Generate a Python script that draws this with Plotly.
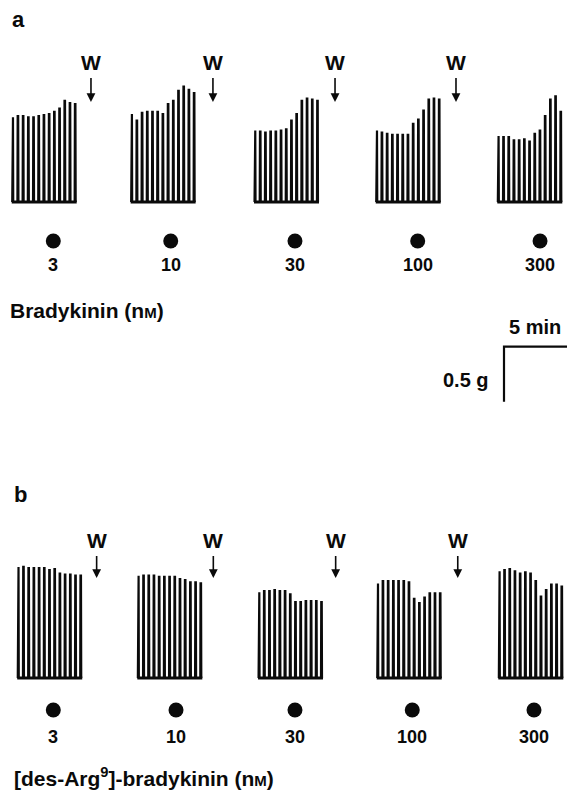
import plotly.graph_objects as go

# ---------------- data ----------------
doses = ["3", "10", "30", "100", "300"]          # nM
# peak tension of each contraction above baseline (g)
peaks_a = [
    [0.77, 0.78, 0.78, 0.77, 0.77, 0.78, 0.79, 0.80, 0.82, 0.85, 0.92, 0.90, 0.89],
    [0.80, 0.74, 0.81, 0.82, 0.82, 0.82, 0.80, 0.89, 0.92, 1.01, 1.05, 1.02, 0.99],
    [0.65, 0.64, 0.63, 0.64, 0.64, 0.65, 0.66, 0.74, 0.80, 0.92, 0.94, 0.93, 0.92],
    [0.65, 0.63, 0.62, 0.61, 0.61, 0.61, 0.61, 0.71, 0.75, 0.83, 0.93, 0.94, 0.93],
    [0.60, 0.59, 0.59, 0.56, 0.56, 0.57, 0.55, 0.62, 0.65, 0.78, 0.93, 0.96, 0.82],
]
peaks_b = [
    [1.01, 1.01, 1.00, 1.00, 1.00, 1.00, 0.98, 0.99, 0.95, 0.94, 0.94, 0.93, 0.93],
    [0.93, 0.93, 0.93, 0.93, 0.92, 0.92, 0.92, 0.92, 0.90, 0.89, 0.87, 0.87, 0.86],
    [0.78, 0.79, 0.79, 0.80, 0.79, 0.79, 0.76, 0.69, 0.69, 0.70, 0.70, 0.70, 0.69],
    [0.86, 0.88, 0.88, 0.88, 0.88, 0.88, 0.87, 0.72, 0.68, 0.73, 0.77, 0.77, 0.77],
    [0.97, 0.98, 0.99, 0.97, 0.95, 0.96, 0.95, 0.88, 0.74, 0.80, 0.85, 0.85, 0.83],
]
seg_start_a = [1.01, 10.45, 20.24, 29.90, 39.55]   # min, first contraction of each segment
seg_start_b = [1.45, 10.98, 20.56, 29.98, 39.63]
contraction_interval = 0.413                        # min
dose_time_a = [4.23, 13.55, 23.41, 33.15, 42.86]    # min
dose_time_b = [4.23, 13.97, 23.41, 32.72, 42.38]
wash_time_a = [7.22, 16.90, 26.59, 36.19]           # min
wash_time_b = [7.67, 16.93, 26.64, 36.33]
scale_time = 5.0    # min
scale_force = 0.5   # g

# ---------------- layout constants ----------------
W, H = 567, 791
PX_PER_MIN = 12.6
PX_PER_G = 110.0
BASE_A = 202.0   # pixel row of panel-a baseline
BASE_B = 678.0   # pixel row of panel-b baseline
FONT = "Liberation Sans"
INK = "#0a0a0a"


def ya(py):
    return (BASE_A - py) / PX_PER_G


def yb(py):
    return (BASE_B - py) / PX_PER_G


def ppx(px):
    return px / W


def ppy(py):
    return 1 - py / H


fig = go.Figure()


def add_panel(peaks, starts, yaxis):
    half = 0.5 / PX_PER_MIN
    for seg, t0 in zip(peaks, starts):
        xs, ys = [], []
        for i, h in enumerate(seg):
            t = t0 + i * contraction_interval
            xs += [t - half, t - half * 0.5, t + half * 0.5, t + half]
            ys += [0, h, h, 0]
        fig.add_trace(go.Scatter(x=xs, y=ys, mode="lines", yaxis=yaxis,
                                 line=dict(color=INK, width=2.2),
                                 hoverinfo="skip", showlegend=False))
        t_end = t0 + (len(seg) - 1) * contraction_interval
        fig.add_trace(go.Scatter(x=[t0 - 0.08, t_end + 0.12], y=[0, 0], mode="lines",
                                 yaxis=yaxis, line=dict(color=INK, width=3.2),
                                 hoverinfo="skip", showlegend=False))


add_panel(peaks_a, seg_start_a, "y")
add_panel(peaks_b, seg_start_b, "y2")

# dose markers
fig.add_trace(go.Scatter(x=dose_time_a, y=[ya(241)] * len(dose_time_a), mode="markers",
                         marker=dict(color=INK, size=15), yaxis="y",
                         hoverinfo="skip", showlegend=False))
fig.add_trace(go.Scatter(x=dose_time_b, y=[yb(710)] * len(dose_time_b), mode="markers",
                         marker=dict(color=INK, size=15), yaxis="y2",
                         hoverinfo="skip", showlegend=False))

# scale bar
x_end = W / PX_PER_MIN
sb_top = ya(346.7)
fig.add_trace(go.Scatter(x=[x_end, x_end - scale_time, x_end - scale_time],
                         y=[sb_top, sb_top, sb_top - scale_force],
                         mode="lines", line=dict(color=INK, width=2.2), yaxis="y",
                         hoverinfo="skip", showlegend=False))

annotations = []


def txt(x, y, s, size, xanchor="center", xref="paper"):
    annotations.append(dict(x=x, y=y, xref=xref, yref="paper", text=s, showarrow=False,
                            xanchor=xanchor, yanchor="middle",
                            font=dict(family=FONT, size=size, color=INK)))


# panel letters
txt(ppx(10), ppy(20), "<b>a</b>", 22, "left")
txt(ppx(12), ppy(494), "<b>b</b>", 22, "left")

# dose numbers
for t, d in zip(dose_time_a, doses):
    txt(t, ppy(265), f"<b>{d}</b>", 18, xref="x")
for t, d in zip(dose_time_b, doses):
    txt(t, ppy(737), f"<b>{d}</b>", 18, xref="x")

small_m = "<span style='font-size:15px'>M</span>"
txt(ppx(8), ppy(310), f"<b>Bradykinin (n{small_m})</b>", 21, "left")
txt(ppx(12), ppy(777), f"<b>[des-Arg<sup>9</sup>]-bradykinin (n{small_m})</b>", 21, "left")

# scale bar labels
txt(ppx(535), ppy(327), "<b>5 min</b>", 20)
txt(ppx(491), ppy(380), "<b>0.5 g</b>", 20, "right")

# wash arrows
for t in wash_time_a:
    annotations.append(dict(x=t, y=ya(102), xref="x", yref="y", text="<b>W</b>",
                            showarrow=True, ax=0, ay=-40, arrowhead=2, arrowsize=1.1,
                            arrowwidth=1.6, arrowcolor=INK, startstandoff=3,
                            font=dict(family=FONT, size=21, color=INK)))
for t in wash_time_b:
    annotations.append(dict(x=t, y=yb(578), xref="x", yref="y2", text="<b>W</b>",
                            showarrow=True, ax=0, ay=-38, arrowhead=2, arrowsize=1.1,
                            arrowwidth=1.6, arrowcolor=INK, startstandoff=3,
                            font=dict(family=FONT, size=21, color=INK)))

axis_off = dict(visible=False, showgrid=False, zeroline=False, fixedrange=True)
fig.update_layout(
    width=W, height=H,
    margin=dict(l=0, r=0, t=0, b=0),
    paper_bgcolor="white", plot_bgcolor="white",
    showlegend=False,
    xaxis=dict(range=[0, W / PX_PER_MIN], domain=[0, 1], **axis_off),
    yaxis=dict(range=[(BASE_A - H) / PX_PER_G, BASE_A / PX_PER_G], domain=[0, 1], **axis_off),
    yaxis2=dict(range=[(BASE_B - H) / PX_PER_G, BASE_B / PX_PER_G], domain=[0, 1],
                overlaying="y", **axis_off),
    annotations=annotations,
)

fig.write_html("out.html")
